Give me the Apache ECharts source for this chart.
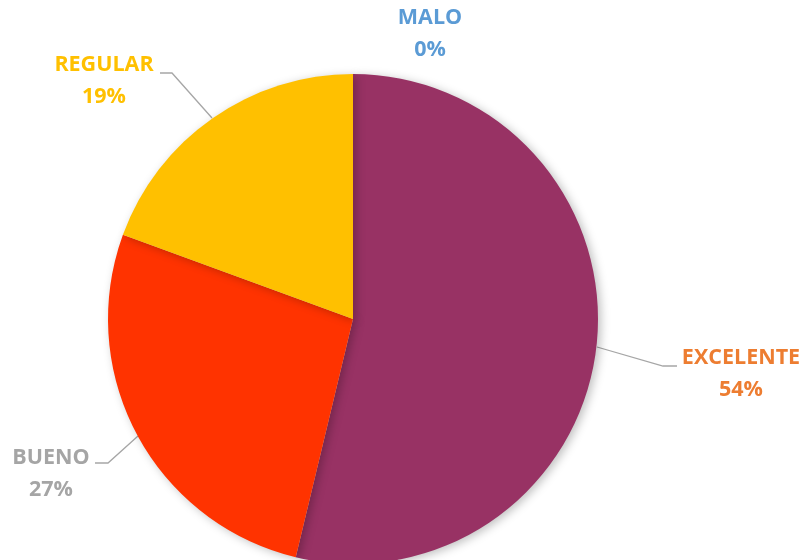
<!DOCTYPE html>
<html>
<head>
<meta charset="utf-8">
<script src="https://cdn.jsdelivr.net/npm/echarts@6/dist/echarts.min.js"></script>
<style>
  html, body { margin: 0; padding: 0; background: #ffffff; }
  #chart { width: 805px; height: 560px; }
</style>
</head>
<body>
<div id="chart"></div>
<script>
const categories = ['EXCELENTE', 'BUENO', 'REGULAR', 'MALO'];
const values = [53.7, 26.8, 19.4, 0];

const sliceColors = ['#983264', '#FF3300', '#FFC000', '#5B9BD5'];
const labelColors = ['#ED7D31', '#A5A5A5', '#FFC000', '#5B9BD5'];
// label anchor positions (centre of the two-line block) and leader line geometry
const labelPos = [
  { x: 741, y: 374, line: [[597, 347], [663, 366], [677, 366]] },
  { x: 51, y: 474, line: [[138, 436], [108, 463], [95, 463]] },
  { x: 104, y: 81, line: [[212, 118], [172, 73], [160, 73]] },
  { x: 430, y: 34, line: null }
];

const chart = echarts.init(document.getElementById('chart'), null, { renderer: 'canvas' });

const data = categories.map((c, i) => ({
  name: c,
  value: values[i],
  itemStyle: { color: sliceColors[i] },
  label: { color: labelColors[i] },
  labelLine: { show: labelPos[i].line !== null }
}));

chart.setOption({
  animation: false,
  backgroundColor: '#ffffff',
  series: [{
    type: 'pie',
    center: [353, 319],
    radius: [0, 245],
    startAngle: 90,
    clockwise: true,
    avoidLabelOverlap: false,
    stillShowZeroSum: true,
    percentPrecision: 0,
    itemStyle: {
      borderWidth: 0,
      shadowBlur: 10,
      shadowColor: 'rgba(0,0,0,0.25)',
      shadowOffsetX: 3,
      shadowOffsetY: 2
    },
    label: {
      show: true,
      position: 'outside',
      formatter: '{b}\n{d}%',
      fontFamily: 'Open Sans',
      fontWeight: 'bold',
      fontSize: 21.5,
      lineHeight: 32,
      align: 'center'
    },
    labelLine: {
      show: true,
      lineStyle: { color: '#A6A6A6', width: 1.3 }
    },
    labelLayout: function (params) {
      const p = labelPos[params.dataIndex];
      const res = { x: p.x, y: p.y, align: 'center', verticalAlign: 'middle', hideOverlap: false };
      if (p.line) res.labelLinePoints = p.line;
      return res;
    },
    data: data
  }]
});
</script>
</body>
</html>
